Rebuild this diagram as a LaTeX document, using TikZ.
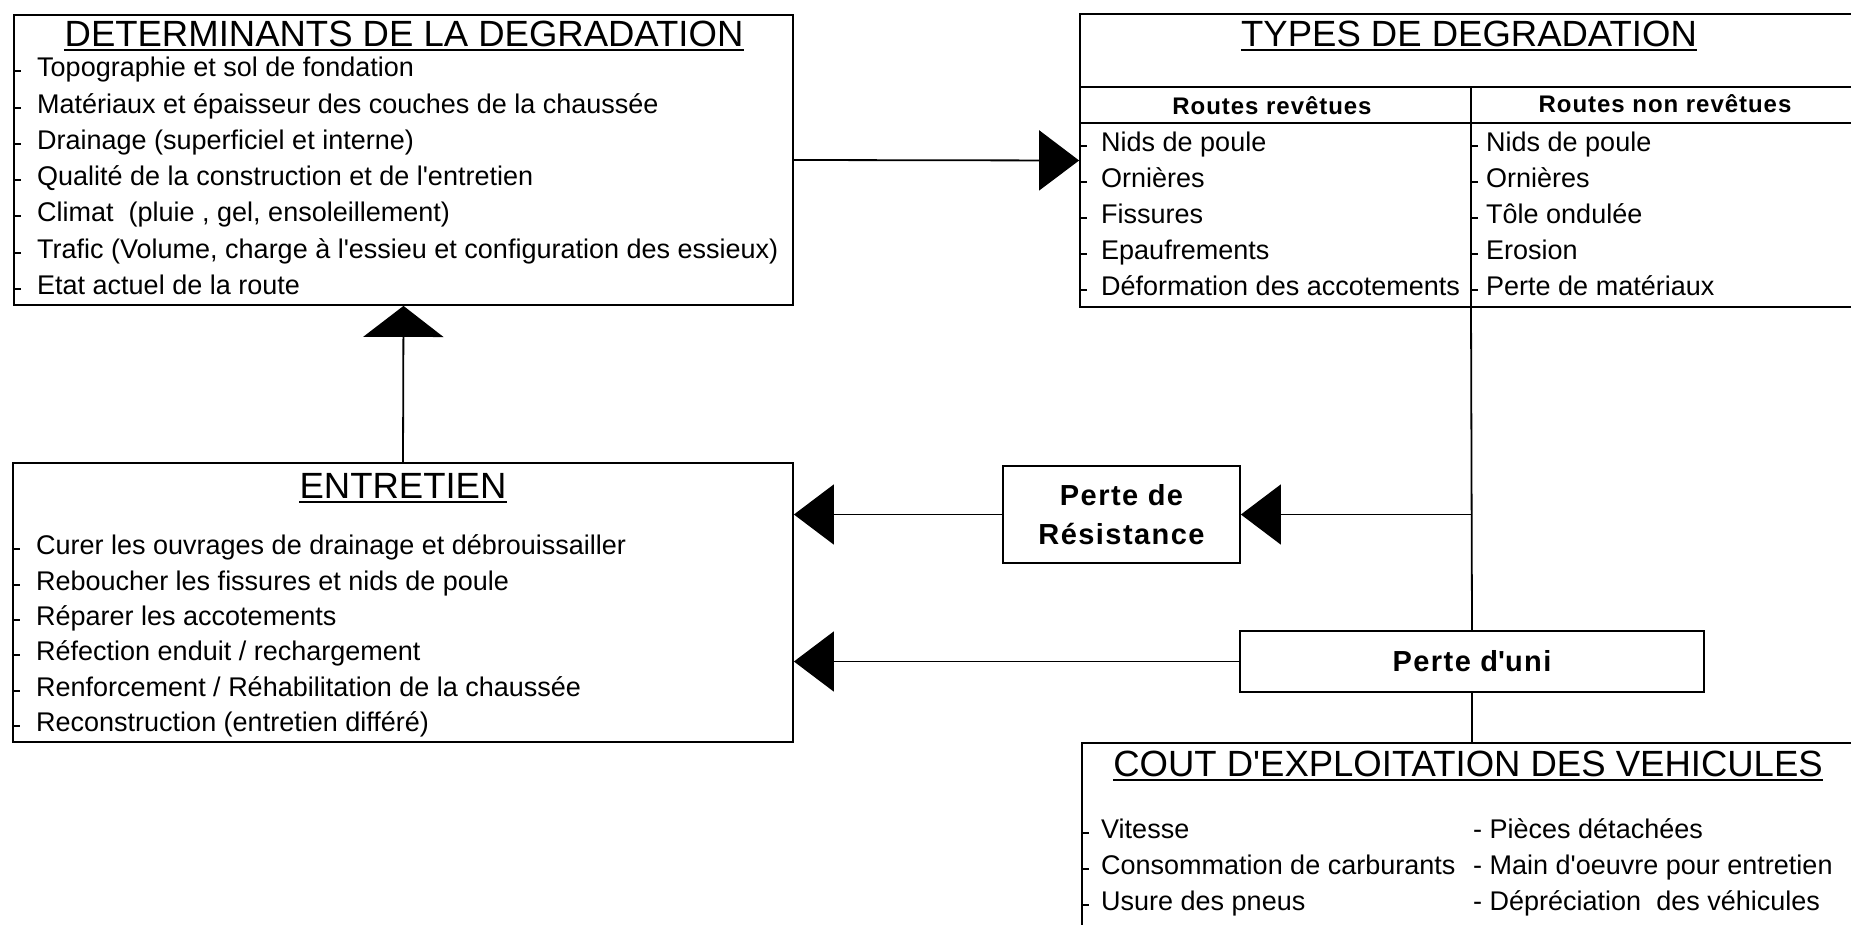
\documentclass[tikz,border=0pt]{standalone}
\usepackage{fontspec}
\setmainfont{Liberation Sans}
\usetikzlibrary{arrows.meta,positioning}

\tikzset{
  boite/.style={draw,line width=1.8pt,rectangle,inner sep=0pt},
  titre/.style={anchor=base,inner sep=0pt,font=\fontsize{36.5}{40}\selectfont},
  item/.style={anchor=base west,inner sep=0pt,font=\fontsize{27}{30}\selectfont},
  entete/.style={inner sep=0pt,font=\bfseries\fontsize{24}{28}\selectfont\addfontfeature{LetterSpace=4}},
  perte/.style={boite,align=center,font=\bfseries\fontsize{29}{39}\selectfont\addfontfeature{LetterSpace=5}},
  trait/.style={line width=1.8pt},
  fleche/.style={trait,-{Triangle[length=40pt,width=60pt]}},
  flechev/.style={trait,-{Triangle[length=31pt,width=80pt]}},
}
\newcommand{\apos}{\textquotesingle}

\begin{document}
\begin{tikzpicture}[x=1pt,y=-1pt]
\useasboundingbox (0,0) rectangle (1851,924);
\clip (0,0) rectangle (1851,924);

% boites
\node[boite,minimum width=779,minimum height=290] (det) at (403.5,160) {};
\node[boite,minimum width=780,minimum height=293] (types) at (1470,160.5) {};
\node[boite,minimum width=780,minimum height=279] (entretien) at (403,602.5) {};
\node[perte,minimum width=237,minimum height=97] (perteres) at (1121.5,514.5) {Perte de\\R\'esistance};
\node[perte,minimum width=464,minimum height=61] (perteuni) at (1472,661.5) {Perte d\apos uni};
\node[boite,minimum width=778,minimum height=217] (cout) at (1471,851.5) {};

% titres
\node[titre] (tdet) at (404,46) {DETERMINANTS DE LA DEGRADATION};
\node[titre] (ttypes) at (1469,46) {TYPES DE DEGRADATION};
\node[titre] (tentretien) at (403,498) {ENTRETIEN};
\node[titre] (tcout) at (1468,776) {COUT D\apos EXPLOITATION DES VEHICULES};
\foreach \t in {tdet,ttypes,tentretien,tcout}
  \draw[trait] ([yshift=-4pt]\t.base west) -- ([yshift=-4pt]\t.base east);

% tableau des types
\coordinate (col) at (1471,87);
\draw[trait] (types.west |- col) -- (types.east |- col);
\draw[trait] (types.west |- 0,123) -- (types.east |- 0,123);
\draw[trait] (col) -- (col |- types.south);
\node[entete] (revet) at (1272,106) {Routes rev\^etues};
\node[entete] (nonrevet) at (1665,104) {Routes non rev\^etues};

% listes
\foreach \y/\txt in {68/{Topographie et sol de fondation},
    105/{Mat\'eriaux et \'epaisseur des couches de la chauss\'ee},
    141/{Drainage (superficiel et interne)},
    177/{Qualit\'e de la construction et de l\apos entretien},
    213/{Climat~ (pluie , gel, ensoleillement)},
    250/{Trafic (Volume, charge \`a l\apos essieu et configuration des essieux)},
    286/{Etat actuel de la route}}{
  \node[item] at (37,\y+8) {\txt};
  \draw[trait] (14,\y+3) -- (21,\y+3);
}
\foreach \y/\txt/\txtb in {143/{Nids de poule}/{Nids de poule},
    179/{Orni\`eres}/{Orni\`eres},
    215/{Fissures}/{T\^ole ondul\'ee},
    251/{Epaufrements}/{Erosion},
    287/{D\'eformation des accotements}/{Perte de mat\'eriaux}}{
  \node[item] at (1101,\y+8) {\txt};
  \node[item] at (1486,\y+8) {\txtb};
  \draw[trait] (1080,\y+3) -- (1087,\y+3);
  \draw[trait] (1471,\y+3) -- (1478,\y+3);
}
\foreach \y/\txt in {546/{Curer les ouvrages de drainage et d\'ebrouissailler},
    582/{Reboucher les fissures et nids de poule},
    617/{R\'eparer les accotements},
    652/{R\'efection enduit / rechargement},
    688/{Renforcement / R\'ehabilitation de la chauss\'ee},
    723/{Reconstruction (entretien diff\'er\'e)}}{
  \node[item] at (36,\y+8) {\txt};
  \draw[trait] (13,\y+3) -- (20,\y+3);
}
\foreach \y/\txt/\txtb in {830/{Vitesse}/{- Pi\`eces d\'etach\'ees},
    866/{Consommation de carburants}/{- Main d\apos oeuvre pour entretien},
    902/{Usure des pneus}/{- D\'epr\'eciation~ des v\'ehicules}}{
  \node[item] at (1101,\y+8) {\txt};
  \node[item] at (1473,\y+8) {\txtb};
  \draw[trait] (1082,\y+3) -- (1089,\y+3);
}

% liaisons
\draw[fleche] (det.east) -- (types.west);
\draw[flechev] (entretien.north) -- (det.south);
\draw[trait] (col |- types.south) -- (perteuni.north);
\draw[fleche] (perteuni.north |- perteres.east) -- (perteres.east);
\draw[fleche] (perteres.west) -- (perteres.west -| entretien.east);
\draw[fleche] (perteuni.west) -- (perteuni.west -| entretien.east);
\draw[trait] (perteuni.south) -- (perteuni.south |- cout.north);
\end{tikzpicture}
\end{document}
